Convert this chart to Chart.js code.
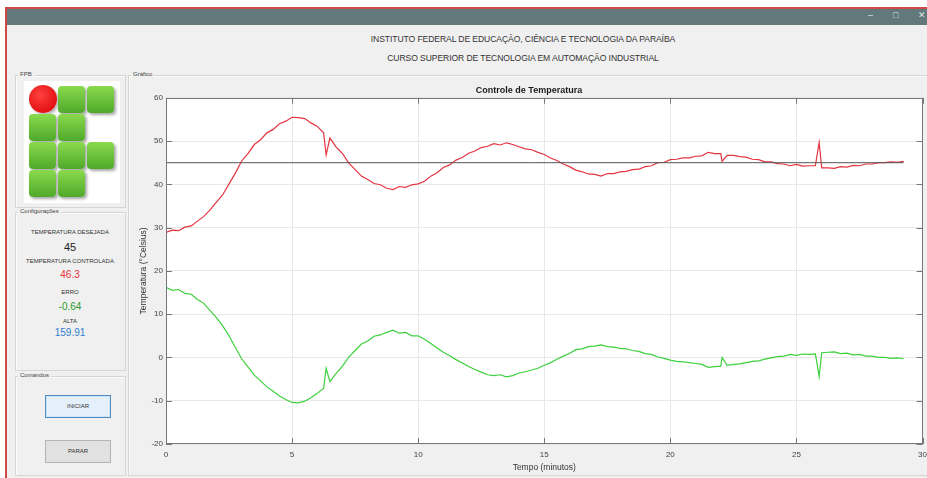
<!DOCTYPE html>
<html lang="pt-BR">
<head>
<meta charset="utf-8">
<title>Controle de Temperatura</title>
<script src="https://cdn.jsdelivr.net/npm/chart.js@4.4.1/dist/chart.umd.min.js"></script>
<style>
  html, body { margin: 0; padding: 0; }
  body {
    width: 927px; height: 478px; overflow: hidden; position: relative; background: #fff;
    font-family: "Liberation Sans", Arial, sans-serif; color: #333;
  }
  .abs { position: absolute; }
  #janela { left: 5px; top: 7px; width: 940px; height: 490px; border: 2px solid #cf4a47; background: #f0f0f0; box-sizing: border-box; }
  #barra { left: 7px; top: 9px; width: 920px; height: 16px; background: #62787a; }
  .ctl { top: 10px; color: #dfe6e6; font-size: 9px; }
  .cab { left: 130px; width: 786px; text-align: center; font-size: 8.6px; color: #333; letter-spacing: -0.1px; }
  .painel { border: 1px solid #d6d6d6; box-shadow: inset 1px 1px 0 #fbfbfb; box-sizing: border-box; }
  .rot { font-size: 6px; color: #444; background: #f0f0f0; padding: 0 2px; }
  .bloco { width: 27px; height: 27px; border-radius: 4px; background: linear-gradient(#8ada4c, #4fa92b); box-shadow: 2px 2px 3px rgba(0,0,0,0.35); }
  .info { left: 15px; width: 110px; text-align: center; }
  .lbl { font-size: 6px; color: #333; }
  .botao { left: 45px; width: 66px; height: 23px; box-sizing: border-box; font-size: 6px; text-align: center; line-height: 21px; color: #333; }
  #grafico { left: 130px; top: 80px; }
</style>
</head>
<body>
<div id="janela" class="abs"></div>
<div id="barra" class="abs"></div>
<div class="abs ctl" style="left:868px">&#8211;</div>
<div class="abs ctl" style="left:893px">&#9633;</div>
<div class="abs ctl" style="left:918px">&#10005;</div>

<div class="abs cab" style="top:34px">INSTITUTO FEDERAL DE EDUCAÇÃO, CIÊNCIA E TECNOLOGIA DA PARAÍBA</div>
<div class="abs cab" style="top:53px">CURSO SUPERIOR DE TECNOLOGIA EM AUTOMAÇÃO INDUSTRIAL</div>

<!-- painel do logo -->
<div class="abs painel" style="left:15px;top:75px;width:111px;height:133px"></div>
<div class="abs rot" style="left:18px;top:71px">FPB</div>
<div class="abs" style="left:24px;top:81px;width:96px;height:122px;background:#fff"></div>
<div class="abs" style="left:29px;top:85px;width:28px;height:28px;border-radius:50%;background:radial-gradient(circle at 40% 35%, #ff4040, #d80000);box-shadow:2px 2px 3px rgba(0,0,0,0.3)"></div>
<div class="abs bloco" style="left:58px;top:86px"></div>
<div class="abs bloco" style="left:87px;top:86px"></div>
<div class="abs bloco" style="left:29px;top:114px"></div>
<div class="abs bloco" style="left:58px;top:114px"></div>
<div class="abs bloco" style="left:29px;top:142px"></div>
<div class="abs bloco" style="left:58px;top:142px"></div>
<div class="abs bloco" style="left:87px;top:142px"></div>
<div class="abs bloco" style="left:29px;top:170px"></div>
<div class="abs bloco" style="left:58px;top:170px"></div>

<!-- configurações -->
<div class="abs painel" style="left:15px;top:212px;width:111px;height:159px"></div>
<div class="abs rot" style="left:18px;top:208px">Configurações</div>
<div class="abs info lbl" style="top:229px">TEMPERATURA DESEJADA</div>
<div class="abs info" style="top:241px;font-size:11px;color:#222">45</div>
<div class="abs info lbl" style="top:258px">TEMPERATURA CONTROLADA</div>
<div class="abs info" style="top:269px;font-size:10px;color:#e8303a">46.3</div>
<div class="abs info lbl" style="top:289px">ERRO</div>
<div class="abs info" style="top:301px;font-size:10px;color:#2e9a2e">-0.64</div>
<div class="abs info lbl" style="top:318px">ALTA</div>
<div class="abs info" style="top:327px;font-size:10px;color:#2f7fd0">159.91</div>

<!-- comandos -->
<div class="abs painel" style="left:15px;top:376px;width:111px;height:100px"></div>
<div class="abs rot" style="left:18px;top:372px">Comandos</div>
<div class="abs botao" style="top:395px;background:#e3f0fb;border:1px solid #4d8cc4;box-shadow:inset 0 0 0 1px #cfe4f7">INICIAR</div>
<div class="abs botao" style="top:440px;background:#e1e1e1;border:1px solid #b4b4b4">PARAR</div>

<!-- gráfico -->
<div class="abs painel" style="left:128px;top:75px;width:800px;height:401px"></div>
<div class="abs rot" style="left:131px;top:71px">Gráfico</div>
<canvas id="grafico" class="abs" width="803" height="398"></canvas>

<script>
// tempo em minutos (inclui as amostras dos picos)
const tempoMin = [
    0, 0.25, 0.5, 0.75, 1, 1.25, 1.5, 1.75, 2, 2.25, 2.5, 2.75, 3, 3.25, 3.5, 3.75,
    4, 4.25, 4.5, 4.75, 5, 5.25, 5.5, 5.75, 6, 6.25, 6.35, 6.5, 6.75, 7, 7.25, 7.5, 7.75,
    8, 8.25, 8.5, 8.75, 9, 9.25, 9.5, 9.75, 10, 10.25, 10.5, 10.75, 11, 11.25, 11.5, 11.75,
    12, 12.25, 12.5, 12.75, 13, 13.25, 13.5, 13.75, 14, 14.25, 14.5, 14.75, 15, 15.25, 15.5, 15.75,
    16, 16.25, 16.5, 16.75, 17, 17.25, 17.5, 17.75, 18, 18.25, 18.5, 18.75, 19, 19.25, 19.5, 19.75,
    20, 20.25, 20.5, 20.75, 21, 21.25, 21.5, 21.75, 22, 22.05, 22.25, 22.5, 22.75, 23, 23.25, 23.5, 23.75,
    24, 24.25, 24.5, 24.75, 25, 25.25, 25.5, 25.75, 25.9, 26, 26.25, 26.5, 26.75, 27, 27.25, 27.5, 27.75,
    28, 28.25, 28.5, 28.75, 29, 29.25,
];

// temperatura medida (°C)
const temperatura = [
    28.9, 29.4, 29.3, 30.1, 30.4, 31.5, 32.6, 34.1, 35.9, 37.6, 40.1, 42.6, 45.4, 47.1, 49.2, 50.3,
    51.9, 52.7, 54.0, 54.6, 55.5, 55.4, 55.2, 54.2, 53.4, 51.9, 46.8, 50.7, 48.6, 47.1, 44.9, 43.4, 41.9,
    41.1, 40.2, 39.9, 39.1, 38.8, 39.5, 39.3, 39.9, 40.1, 40.7, 41.9, 42.7, 43.9, 44.5, 45.6, 46.2,
    47.2, 47.7, 48.5, 48.8, 49.4, 49.1, 49.6, 49.2, 48.7, 48.2, 48.0, 47.4, 46.9, 46.1, 45.5, 44.7,
    44.1, 43.3, 42.9, 42.4, 42.3, 41.9, 42.5, 42.5, 42.9, 43.0, 43.4, 43.5, 44.1, 44.3, 45.0, 45.1,
    45.7, 45.8, 46.1, 46.1, 46.5, 46.6, 47.4, 47.1, 47.1, 45.3, 46.7, 46.7, 46.4, 46.3, 45.8, 45.7, 45.2,
    45.2, 44.8, 44.7, 44.3, 44.6, 44.2, 44.3, 44.3, 49.7, 43.8, 43.8, 43.7, 44.1, 44.0, 44.4, 44.3, 44.7,
    44.7, 45.0, 45.0, 45.2, 45.1, 45.3,
];

// erro (°C)
const erro = [
    16.2, 15.5, 15.7, 14.8, 14.6, 13.4, 12.5, 10.8, 9.2, 7.3, 5.0, 2.3, -0.3, -2.2, -4.1, -5.4,
    -6.8, -7.8, -8.9, -9.7, -10.4, -10.5, -10.1, -9.3, -8.3, -7.1, -2.5, -5.6, -3.7, -2.0, 0.1, 1.6, 3.1,
    3.8, 4.9, 5.2, 5.8, 6.3, 5.6, 5.8, 5.0, 5.0, 4.2, 3.2, 2.2, 1.2, 0.4, -0.5, -1.3,
    -2.1, -2.8, -3.4, -4.0, -4.2, -4.0, -4.5, -4.2, -3.6, -3.3, -2.9, -2.5, -1.8, -1.2, -0.4, 0.3,
    0.9, 1.8, 2.0, 2.5, 2.6, 2.9, 2.5, 2.4, 2.1, 2.0, 1.6, 1.4, 0.9, 0.7, 0.1, -0.2,
    -0.6, -0.9, -1.0, -1.2, -1.4, -1.6, -2.3, -2.1, -2.0, 0.0, -1.8, -1.6, -1.5, -1.2, -0.9, -0.8, -0.4,
    -0.1, 0.2, 0.3, 0.7, 0.5, 0.8, 0.7, 0.8, -4.4, 1.1, 1.2, 1.3, 0.9, 1.0, 0.6, 0.7, 0.3,
    0.3, 0.0, 0.0, -0.2, -0.1, -0.3,
];

// temperatura desejada
const setpointTempo = [0, 29.25];
const setpointValor = [45, 45];

const ticksX = [0, 5, 10, 15, 20, 25, 30];
const ticksY = [-20, -10, 0, 10, 20, 30, 40, 50, 60];

const pares = (xs, ys) => xs.map((x, i) => ({ x, y: ys[i] }));

// fundo branco da área do gráfico + moldura com ticks para dentro (estilo MATLAB)
const molduraMatlab = {
    id: 'molduraMatlab',
    beforeDraw(chart) {
        const { ctx, chartArea: a } = chart;
        ctx.save();
        ctx.fillStyle = '#ffffff';
        ctx.fillRect(a.left, a.top, a.right - a.left, a.bottom - a.top);
        ctx.restore();
    },
    afterDraw(chart) {
        const { ctx, chartArea: a, scales } = chart;
        ctx.save();
        ctx.strokeStyle = '#777777';
        ctx.lineWidth = 1;
        ctx.strokeRect(Math.round(a.left) + 0.5, Math.round(a.top) + 0.5,
            Math.round(a.right - a.left) - 1, Math.round(a.bottom - a.top) - 1);
        ctx.beginPath();
        scales.x.ticks.forEach((t) => {
            const px = Math.round(scales.x.getPixelForValue(t.value)) + 0.5;
            ctx.moveTo(px, a.bottom); ctx.lineTo(px, a.bottom - 6);
            ctx.moveTo(px, a.top); ctx.lineTo(px, a.top + 6);
        });
        scales.y.ticks.forEach((t) => {
            const py = Math.round(scales.y.getPixelForValue(t.value)) + 0.5;
            ctx.moveTo(a.left, py); ctx.lineTo(a.left + 6, py);
            ctx.moveTo(a.right, py); ctx.lineTo(a.right - 6, py);
        });
        ctx.stroke();
        ctx.restore();
    },
};

Chart.defaults.font.family = '"Liberation Sans", Arial, sans-serif';
Chart.defaults.color = '#444';

new Chart(document.getElementById('grafico'), {
    type: 'line',
    data: {
        datasets: [
            {
                label: 'Temperatura desejada',
                data: pares(setpointTempo, setpointValor),
                borderColor: '#555555',
                borderWidth: 1,
                pointRadius: 0,
            },
            {
                label: 'Temperatura',
                data: pares(tempoMin, temperatura),
                borderColor: '#e4343e',
                borderWidth: 1.2,
                pointRadius: 0,
            },
            {
                label: 'Erro',
                data: pares(tempoMin, erro),
                borderColor: '#3cd03c',
                borderWidth: 1.2,
                pointRadius: 0,
            },
        ],
    },
    options: {
        responsive: false,
        animation: false,
        layout: { padding: { left: 0, right: 5, top: 0, bottom: 0 } },
        plugins: {
            legend: { display: false },
            tooltip: { enabled: false },
            title: {
                display: true,
                text: 'Controle de Temperatura',
                color: '#1a1a1a',
                font: { size: 9, weight: 'bold' },
                padding: { top: 5, bottom: 2 },
            },
        },
        scales: {
            x: {
                type: 'linear',
                min: 0,
                max: 30,
                afterBuildTicks: (scale) => { scale.ticks = ticksX.map((v) => ({ value: v })); },
                afterFit: (scale) => { scale.height = 34; },
                border: { display: false },
                grid: { color: '#e8e8e8', drawTicks: false },
                ticks: { font: { size: 8 }, padding: 6, maxRotation: 0 },
                title: {
                    display: true,
                    text: 'Tempo (minutos)',
                    font: { size: 8.5 },
                    color: '#333',
                    padding: { top: 0, bottom: 5 },
                },
            },
            y: {
                min: -20,
                max: 60,
                afterBuildTicks: (scale) => { scale.ticks = ticksY.map((v) => ({ value: v })); },
                afterFit: (scale) => { scale.width = 36; },
                border: { display: false },
                grid: { color: '#e8e8e8', drawTicks: false },
                ticks: { font: { size: 8 }, padding: 3 },
                title: {
                    display: true,
                    text: 'Temperatura (°Celsius)',
                    font: { size: 8.5 },
                    color: '#333',
                    padding: { top: 9, bottom: 0 },
                },
            },
        },
    },
    plugins: [molduraMatlab],
});
</script>
</body>
</html>
